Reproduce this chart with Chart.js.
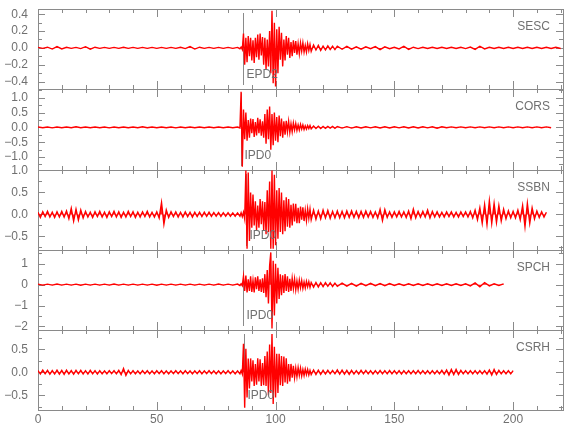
<!DOCTYPE html>
<html>
<head>
<meta charset="utf-8">
<script src="https://cdn.jsdelivr.net/npm/chart.js@4.4.0/dist/chart.umd.min.js"></script>
<style>
  html, body { margin: 0; padding: 0; background: #fff; }
  #wrap { width: 580px; height: 440px; }
</style>
</head>
<body>
<div id="wrap"><canvas id="seis" width="580" height="440"></canvas></div>
<script>
// sample times (s) for SESC, CORS, SPCH
var times = [
  0,2,4,6,8,10,12,14,16,18,20,22,24,26,28,30,32,34,36,38,40,42,44,46,48,50,52,54,56,58,60,62,64,66,68,70,72,74,76,78,80,82,84,
  85,85.5,86,86.5,87,87.5,88,88.5,89,89.5,
  90,90.5,91,91.5,92,92.5,93,93.5,94,94.5,
  95,95.5,96,96.5,97,97.5,98,98.5,99,99.5,
  100,100.5,101,101.5,102,102.5,103,103.5,104,104.5,
  105,105.5,106,106.5,107,107.5,108,108.5,109,109.5,
  110,110.5,111,111.5,112,112.5,113,113.5,114,114.5,
  115,
  116,117,118,119,120,121,122,123,124,125,
  126,128,130,132,134,136,138,140,142,144,146,148,150,152,154,156,158,160,162,164,166,168,170,172,
  174,176,178,180,182,184,186,188,190,192,194,196,198,200,202,204,206,208,210,212,214,216,218,220
];

// denser sample times (s) for the noisier SSBN and CSRH records
var denseTimes = [
  0,1,2,3,4,5,6,7,8,9,10,11,12,13,14,15,16,17,18,19,20,21,22,23,24,25,26,27,28,29,
  30,31,32,33,34,35,36,37,38,39,40,41,42,43,44,45,46,47,48,49,50,51,52,53,54,55,56,57,58,59,
  60,61,62,63,64,65,66,67,68,69,70,71,72,73,74,75,76,77,78,79,80,81,82,83,84,
  85,85.5,86,86.5,87,87.5,88,88.5,89,89.5,
  90,90.5,91,91.5,92,92.5,93,93.5,94,94.5,
  95,95.5,96,96.5,97,97.5,98,98.5,99,99.5,
  100,100.5,101,101.5,102,102.5,103,103.5,104,104.5,
  105,105.5,106,106.5,107,107.5,108,108.5,109,109.5,
  110,110.5,111,111.5,112,112.5,113,113.5,114,114.5,
  115,
  116,117,118,119,120,121,122,123,124,125,
  126,127,128,129,130,131,132,133,134,135,136,137,138,139,140,141,142,143,144,145,
  146,147,148,149,150,151,152,153,154,155,156,157,158,159,160,161,162,163,164,165,
  166,167,168,169,170,171,172,173,174,175,176,177,178,179,180,181,182,183,184,185,
  186,187,188,189,190,191,192,193,194,195,196,197,198,199,200,201,202,203,204,205,
  206,207,208,209,210,211,212,213,214,215,216,217,218,219,220
];

var stations = ['SESC', 'CORS', 'SSBN', 'SPCH', 'CSRH'];
var pickTimes = [86.2, 85.6, 87.4, 86.2, 86.7];
var pickNames = ['EPD2', 'IPD0', 'IPD0', 'IPD0', 'IPD0'];

var sescValues = [
  .006,-.006,.008,-.014,.016,-.012,.008,-.006,.006,-.008,
  .014,-.016,.008,-.006,.006,-.006,.006,-.006,.008,-.006,
  .006,-.006,.006,-.006,.006,-.006,.006,-.006,.006,-.006,
  .008,-.008,.016,-.014,.008,-.006,.006,-.006,.006,-.006,
  .006,-.006,.006,
  -.01,.01,-.02,.17,-.2,.12,-.17,.14,-.1,.12,
  -.15,.09,-.18,.12,-.11,.16,-.14,.17,-.09,.13,
  -.2,.12,-.25,.1,-.22,.2,-.3,.44,-.42,.3,
  -.46,.22,-.3,.25,-.14,.18,-.22,.1,-.15,.14,
  -.08,.12,-.12,.07,-.1,.09,-.06,.08,-.08,.05,
  -.07,.06,-.04,.06,-.05,.03,-.05,.05,-.03,.04,
  -.04,
  .035,-.025,.03,-.03,.02,-.025,.025,-.018,.02,-.02,
  .02,-.016,.018,-.015,.012,-.015,.012,-.01,.015,-.02,
  .012,-.01,.008,-.012,.02,-.018,.008,-.008,.008,-.007,
  .007,-.007,.007,-.007,.007,-.007,.007,-.008,.01,-.018,
  .02,-.012,.007,-.007,.007,-.007,.007,-.007,.007,-.007,
  .007,-.007,.007,-.007,.007,-.007,.007,-.007
];

var corsValues = [
  .012,-.012,.012,-.018,.012,-.012,.012,-.012,.018,-.012,
  .012,-.012,.012,-.012,.012,-.018,.012,-.012,.012,-.012,
  .012,-.012,.018,-.012,.012,-.012,.012,-.012,.012,-.018,
  .012,-.012,.012,-.012,.012,-.012,.012,-.012,.012,-.012,
  .012,-.012,.012,
  -.02,1.2,-1.33,.6,-.4,.5,-.45,.25,-.35,.3,
  -.2,.28,-.32,.18,-.27,.32,-.2,.27,-.28,.2,
  -.35,.45,-.55,.6,-.4,.7,-.75,.45,-.6,.5,
  -.45,.35,-.5,.4,-.3,.3,-.35,.2,-.25,.22,
  -.15,.2,-.17,.12,-.15,.15,-.09,.13,-.1,.08,
  -.09,.1,-.06,.08,-.07,.05,-.06,.06,-.04,.06,
  -.05,
  .045,-.035,.04,-.04,.03,-.035,.03,-.025,.03,-.03,
  .03,-.025,.025,-.025,.02,-.02,.02,-.018,.02,-.02,
  .018,-.02,.02,-.018,.02,-.02,.018,-.02,.02,-.018,
  .02,-.03,.018,-.015,.015,-.015,.015,-.015,.015,-.015,
  .015,-.015,.015,-.015,.015,-.015,.015,-.015,.015,-.015,
  .015,-.015,.015,-.015,.015,-.015,null,null
];

// SSBN on denseTimes
var ssbnValues = [
  .05,-.07,.06,-.05,.07,-.06,.05,-.07,.06,-.06,
  .07,-.06,.08,-.1,.14,-.15,.12,-.13,.1,-.08,
  .07,-.06,.05,-.07,.06,-.05,.07,-.06,.05,-.07,
  .06,-.05,.07,-.06,.06,-.07,.05,-.06,.07,-.05,
  .06,-.07,.05,-.06,.06,-.05,.07,-.06,.05,-.06,
  .06,-.08,.27,-.22,.1,-.07,.06,-.05,.06,-.06,
  .05,-.06,.06,-.05,.05,-.06,.05,-.05,.05,-.05,
  .05,-.045,.05,-.045,.045,-.04,.045,-.045,.04,-.04,
  .04,-.04,.035,-.04,.035,
  -.04,.04,-.05,.05,-.1,1.0,-.78,.95,-.6,.5,
  -.3,.45,-.25,.3,-.35,.2,-.3,.35,-.22,.3,
  -.35,.28,-.45,.55,-.4,.75,-.78,1.0,-.78,.9,
  -.7,.55,-.55,.6,-.4,.5,-.45,.32,-.38,.39,
  -.28,.35,-.3,.22,-.25,.25,-.16,.24,-.2,.15,
  -.2,.18,-.12,.16,-.15,.1,-.14,.13,-.09,.12,
  -.12,
  .1,-.11,.08,-.1,.1,-.08,.09,-.09,.07,-.08,
  .08,-.08,.07,-.08,.08,-.07,.08,-.07,.07,-.08,
  .07,-.07,.08,-.06,.07,-.07,.06,-.08,.12,-.14,
  .11,-.07,.06,-.07,.06,-.06,.07,-.06,.06,-.07,
  .08,-.1,.12,-.08,.07,-.06,.07,-.06,.1,-.08,
  .07,-.06,.06,-.06,.05,-.06,.06,-.05,.06,-.06,
  .05,-.06,.06,-.05,.06,-.06,.07,-.08,.1,-.12,
  .15,-.2,.22,-.23,.31,-.2,.25,-.18,.2,-.15,
  .12,-.1,.08,-.08,.07,-.08,.1,-.12,.2,-.28,
  .25,-.2,.15,-.1,.08,-.07,.06,-.06,.05,
  null,null,null,null,null,null
];

var spchValues = [
  .025,-.025,.025,-.025,.03,-.025,.025,-.025,.025,-.03,
  .025,-.025,.025,-.025,.025,-.025,.03,-.025,.025,-.025,
  .025,-.025,.025,-.025,.025,-.03,.025,-.025,.025,-.025,
  .025,-.025,.025,-.025,.025,-.025,.025,-.025,.03,-.025,
  .025,-.025,.025,
  -.04,.04,-.05,.4,-.3,.43,-.37,.25,-.3,.4,
  -.35,.2,-.37,.35,-.22,.4,-.3,.25,-.35,.3,
  -.4,.5,-.6,.7,-.9,.9,1.54,-2.1,1.14,-1.47,
  1.0,-.9,.8,-.69,.5,-.5,.45,-.4,.5,-.3,
  .4,-.35,.28,-.3,.3,-.2,.27,-.25,.18,-.22,
  .22,-.15,.2,-.18,.13,-.16,.16,-.1,.14,-.13,
  .1,
  -.12,.1,-.11,.09,-.1,.1,-.08,.09,-.09,.07,
  -.08,.07,-.07,.06,-.07,.06,-.05,.06,-.05,.05,
  -.05,.05,-.04,.04,-.04,.04,-.04,.04,-.04,.04,
  -.04,.04,-.04,.04,-.04,.04,-.04,.04,-.06,.08,
  -.1,.1,-.06,.04,-.04,.04,null,null,null,null,
  null,null,null,null,null,null,null,null
];

// CSRH on denseTimes
var csrhValues = [
  .035,-.04,.045,-.035,.04,-.045,.035,-.04,.045,-.04,
  .04,-.045,.045,-.04,.035,-.045,.04,-.035,.04,-.04,
  .035,-.04,.04,-.035,.035,-.04,.035,-.035,.03,-.035,
  .035,-.03,.035,-.035,.04,-.05,.08,-.07,.04,-.035,
  .035,-.035,.03,-.035,.035,-.03,.035,-.035,.03,-.035,
  .035,-.03,.035,-.035,.03,-.035,.03,-.03,.035,-.03,
  .03,-.035,.035,-.03,.03,-.035,.03,-.03,.035,-.035,
  .03,-.03,.035,-.03,.03,-.035,.03,-.035,.03,-.03,
  .035,-.03,.03,-.035,.03,
  -.035,.035,-.04,.62,-.77,.51,-.55,.3,-.35,.3,
  -.2,.26,-.3,.18,-.27,.3,-.2,.28,-.3,.2,
  -.28,.35,-.3,.45,-.5,.6,-.45,.83,-.69,.55,
  -.55,.4,-.45,.4,-.28,.35,-.3,.34,-.22,.3,
  -.25,.18,-.2,.18,-.12,.14,-.12,.09,-.1,.1,
  -.07,.09,-.08,.06,-.07,.07,-.05,.06,-.06,.04,
  -.05,
  .05,-.05,.045,-.045,.04,-.04,.04,-.035,.04,-.035,
  .05,-.04,.045,-.04,.04,-.045,.04,-.04,.035,-.04,
  .04,-.035,.04,-.035,.035,-.04,.035,-.035,.04,-.035,
  .035,-.035,.04,-.035,.035,-.035,.035,-.04,.035,-.035,
  .035,-.035,.035,-.035,.04,-.035,.035,-.035,.035,-.035,
  .035,-.035,.035,-.035,.04,-.04,.05,-.06,.06,-.05,
  .06,-.05,.04,-.035,.035,-.035,.035,-.035,.035,-.035,
  .035,-.035,.035,-.04,.05,-.06,.06,-.05,.04,-.035,
  .035,-.035,.035,-.035,.035,
  null,null,null,null,null,null,null,null,null,null,
  null,null,null,null,null,null,null,null,null,null
];

var traceValues = [sescValues, corsValues, ssbnValues, spchValues, csrhValues];
var traceTimes = [times, times, denseTimes, times, denseTimes];

// tick labels
var xTicks = [0, 50, 100, 150, 200];
var sescTicks = [-0.4, -0.2, 0, 0.2, 0.4];
var corsTicks = [-1, -0.5, 0, 0.5, 1];
var ssbnTicks = [-0.5, 0, 0.5, 1];
var spchTicks = [-2, -1, 0, 1];
var csrhTicks = [-0.5, 0, 0.5];
var yTickSets = [sescTicks, corsTicks, ssbnTicks, spchTicks, csrhTicks];

// axis ranges
var yMin = [-0.493, -1.42, -0.80, -2.16, -0.82];
var yMax = [0.46, 1.28, 1.02, 1.67, 0.92];
var minorStep = [0.1, 0.25, 0.25, 0.5, 0.25];
var decimals = [1, 1, 1, 0, 1];

var GREY = '#8a8a8a';
var TXT = '#707070';
var FONT = {family: '"Liberation Sans Narrow", "Liberation Sans", sans-serif', size: 12};

function fmt(v, d) {
  if (Math.abs(v) < 1e-9) v = 0;
  return v.toFixed(d).replace('-', '\u2212');
}

function yAxis(k) {
  return {
    type: 'linear',
    position: 'left',
    stack: 'traces',
    stackWeight: 1,
    weight: 10 - k,
    min: yMin[k],
    max: yMax[k],
    grid: {display: false},
    border: {display: false},
    afterBuildTicks: function(s) { s.ticks = yTickSets[k].map(function(v) { return {value: v}; }); },
    afterFit: function(s) { s.width = 38; },
    ticks: {
      autoSkip: false,
      padding: 2,
      color: TXT,
      font: FONT,
      callback: function(v) { return fmt(v, decimals[k]); }
    }
  };
}

var scales = {
  x: {
    type: 'linear',
    position: 'bottom',
    min: 0,
    max: 221,
    grid: {display: false},
    border: {display: false},
    afterBuildTicks: function(s) { s.ticks = xTicks.map(function(v) { return {value: v}; }); },
    afterFit: function(s) { s.height = 30; },
    ticks: {autoSkip: false, maxRotation: 0, padding: -6, color: TXT, font: FONT,
      callback: function(v) { return String(v); }}
  }
};
stations.forEach(function(name, k) { scales['y' + k] = yAxis(k); });

var datasets = stations.map(function(name, k) {
  var vals = traceValues[k];
  return {
    label: name,
    yAxisID: 'y' + k,
    data: traceTimes[k].map(function(t, i) { return {x: t, y: vals[i]}; }),
    borderColor: 'rgb(255,0,0)',
    backgroundColor: 'rgba(255,0,0,0.85)',
    fill: 'origin',
    borderWidth: 1.4,
    pointRadius: 0,
    tension: 0,
    spanGaps: false
  };
});

// frames, inward ticks and phase-pick lines under the traces; names on top
var panelDecor = {
  id: 'panelDecor',
  beforeDatasetsDraw: function(chart) {
    var ctx = chart.ctx, a = chart.chartArea, xs = chart.scales.x;
    ctx.save();
    ctx.strokeStyle = GREY;
    ctx.lineWidth = 1;
    stations.forEach(function(name, k) {
      var s = chart.scales['y' + k];
      var top = Math.round(s.top), bot = Math.round(s.bottom);
      ctx.strokeRect(a.left + 0.5, top + 0.5, a.right - a.left, bot - top);
      ctx.beginPath();
      // y ticks, both sides, pointing in
      var ms = minorStep[k];
      for (var n = Math.ceil(s.min / ms); n * ms <= s.max + 1e-9; n++) {
        var v = n * ms;
        var major = yTickSets[k].some(function(t) { return Math.abs(t - v) < 1e-6; });
        var len = major ? 7 : 4;
        var py = Math.round(s.getPixelForValue(v)) + 0.5;
        ctx.moveTo(a.left, py); ctx.lineTo(a.left + len, py);
        ctx.moveTo(a.right, py); ctx.lineTo(a.right - len, py);
      }
      // x ticks on top and bottom of each panel
      for (var t = 0; t <= 220; t += 10) {
        var px = Math.round(xs.getPixelForValue(t)) + 0.5;
        var l = (t % 50 === 0) ? 8 : 4;
        ctx.moveTo(px, top); ctx.lineTo(px, top + l);
        ctx.moveTo(px, bot); ctx.lineTo(px, bot - l);
      }
      // phase pick line
      var pp = Math.round(xs.getPixelForValue(pickTimes[k])) + 0.5;
      ctx.moveTo(pp, top + 4); ctx.lineTo(pp, bot - 4);
      ctx.stroke();
    });
    ctx.restore();
  },
  afterDatasetsDraw: function(chart) {
    var ctx = chart.ctx, a = chart.chartArea, xs = chart.scales.x;
    ctx.save();
    ctx.fillStyle = TXT;
    ctx.font = '12px ' + FONT.family;
    ctx.textBaseline = 'middle';
    stations.forEach(function(name, k) {
      var s = chart.scales['y' + k];
      var top = Math.round(s.top), bot = Math.round(s.bottom);
      var pp = Math.round(xs.getPixelForValue(pickTimes[k])) + 0.5;
      ctx.textAlign = 'right';
      ctx.fillText(name, a.right - 13, top + 18);
      ctx.textAlign = 'left';
      ctx.fillText(pickNames[k], pp + 3, bot - 14);
    });
    ctx.restore();
  }
};

new Chart(document.getElementById('seis'), {
  type: 'line',
  data: {datasets: datasets},
  options: {
    responsive: false,
    animation: false,
    devicePixelRatio: 1,
    parsing: false,
    layout: {padding: {left: 0, right: 17, top: 5, bottom: 0}},
    plugins: {legend: {display: false}, tooltip: {enabled: false}},
    scales: scales
  },
  plugins: [panelDecor]
});
</script>
</body>
</html>
